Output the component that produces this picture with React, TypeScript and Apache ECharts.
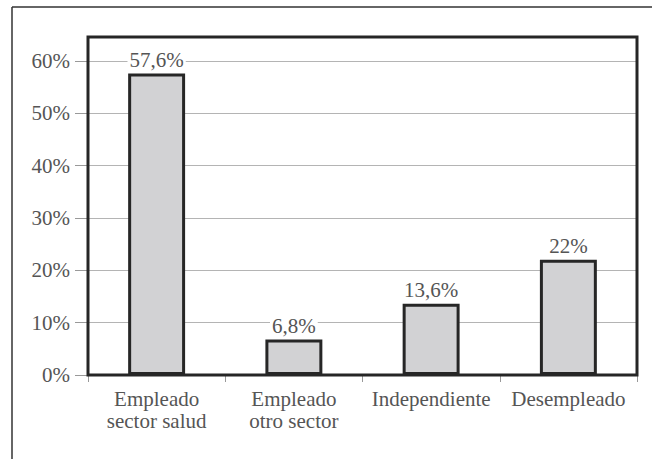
import React, { useEffect, useRef } from "react";
import * as echarts from "echarts";

const categories = ["Empleado\nsector salud", "Empleado\notro sector", "Independiente", "Desempleado"];
const values = [57.6, 6.8, 13.6, 22];
const dataLabels = ["57,6%", "6,8%", "13,6%", "22%"];
const yTicks = [0, 10, 20, 30, 40, 50, 60];

const FONT = "Liberation Serif";

export default function App() {
  const ref = useRef<HTMLDivElement>(null);
  useEffect(() => {
    if (!ref.current) return;
    const chart = echarts.init(ref.current, undefined, { renderer: "svg" });
    chart.setOption({
      animation: false,
      backgroundColor: "#ffffff",
      textStyle: { fontFamily: FONT },
      grid: { left: 88, right: 15, top: 61, bottom: 84, show: false },
      graphic: [
        { type: "line", shape: { x1: 12, y1: 7, x2: 652, y2: 7 }, style: { stroke: "#333", lineWidth: 1.5 }, z: 100 },
        { type: "line", shape: { x1: 12, y1: 7, x2: 12, y2: 459 }, style: { stroke: "#333", lineWidth: 1.5 }, z: 100 },
        { type: "rect", shape: { x: 88, y: 37, width: 549, height: 338 }, style: { stroke: "#262626", lineWidth: 3, fill: "none" }, z: 5 },
      ],
      xAxis: {
        type: "category",
        data: categories,
        axisLine: { show: false },
        axisTick: { show: true, length: 7, lineStyle: { color: "#999", width: 1 } },
        axisLabel: { color: "#555555", fontFamily: FONT, fontSize: 21, lineHeight: 22, margin: 13, interval: 0 },
      },
      yAxis: {
        type: "value",
        min: 0,
        max: 60,
        interval: 10,
        axisLine: { show: false },
        axisTick: { show: true, length: 13, lineStyle: { color: "#999", width: 1 } },
        axisLabel: {
          color: "#555555",
          fontFamily: FONT,
          fontSize: 21,
          margin: 18,
          formatter: (v: number) => (yTicks.includes(v) ? `${v}%` : ""),
        },
        splitLine: { show: true, lineStyle: { color: "#b4b4b4", width: 1 } },
      },
      series: [
        {
          type: "bar",
          data: values,
          barWidth: "41.5%",
          itemStyle: { color: "#d2d2d4", borderColor: "#262626", borderWidth: 3 },
          label: {
            show: true,
            position: "top",
            distance: 3,
            color: "#555555",
            fontFamily: FONT,
            fontSize: 21,
            backgroundColor: "#ffffff",
            padding: [0, 2],
            formatter: (p: any) => dataLabels[p.dataIndex],
          },
        },
      ],
    });
    return () => chart.dispose();
  }, []);
  return <div ref={ref} style={{ width: 652, height: 459, position: "absolute", left: 0, top: 0 }} />;
}
